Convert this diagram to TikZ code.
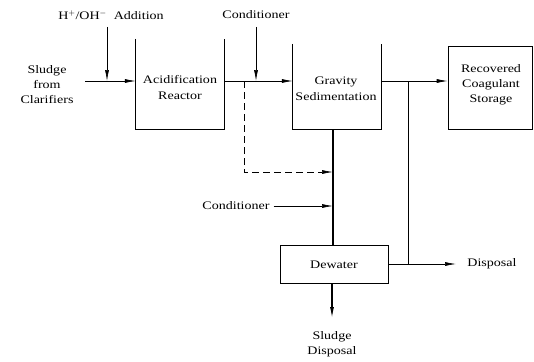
\documentclass[tikz,border=0pt]{standalone}
\usepackage{fontspec}
\setmainfont[FakeStretch=1.22]{Liberation Serif}
\usetikzlibrary{arrows.meta,calc}
\begin{document}
\begin{tikzpicture}[x=1pt,y=-1pt,
  lbl/.style={font=\fontsize{11.5}{13}\selectfont, align=center, inner sep=0pt},
  box/.style={draw=none, minimum width=#1, inner sep=0pt},
  ln/.style={line width=0.7pt},
  arr/.style={ln,-{Latex[length=11pt,width=4pt]}},
  dsh/.style={ln, dash pattern=on 7pt off 4pt}]
\useasboundingbox (0,0) rectangle (534,361);
% boxes
\node[box=88pt, minimum height=90pt] (reac) at (180,84) {};
\node[box=88pt, minimum height=85pt] (sed) at (337,86.5) {};
\node[draw, ln, minimum width=84pt, minimum height=83pt, inner sep=0pt] (stor) at (490,87.5) {};
\node[draw, ln, minimum width=108pt, minimum height=38pt, inner sep=0pt] (dew) at (334,264) {};
\draw[ln] (reac.north west) -- (reac.south west) -- (reac.south east) -- (reac.north east);
\draw[ln] (sed.north west) -- (sed.south west) -- (sed.south east) -- (sed.north east);
% texts
\node[lbl] (treac) at (180,88) {Acidification\\[3pt]Reactor};
\node[lbl] (tsed) at (336,89) {Gravity\\[3pt]Sedimentation};
\node[lbl] (tstor) at (491,85) {Recovered\\[2pt]Coagulant\\[2pt]Storage};
\node[lbl] (tdew) at (334,265) {Dewater};
\node[lbl] (tsl) at (47,85) {Sludge\\[2pt]from\\[2pt]Clarifiers};
\node[lbl] (tacid) at (111,15) {H$^+$/OH$^-$\ \ Addition};
\node[lbl] (tcond) at (256,15) {Conditioner};
\node[lbl] (tcond2) at (236,206) {Conditioner};
\node[lbl] (tdisp) at (492,264) {Disposal};
\node[lbl] (tsd) at (332,344) {Sludge\\[2pt]Disposal};
% coordinates
\coordinate (mainL) at (85,81);
\coordinate (acidT) at (107,27);
\coordinate (acidB) at (107,81);
\coordinate (condT) at (256,27);
\coordinate (condB) at (256,81);
\coordinate (dsplit) at (244,81);
\coordinate (dcorner) at (244,172);
\coordinate (djoin) at (333,172);
\coordinate (dpre) at (321,172);
\coordinate (rsplit) at (408,81);
\coordinate (rjoin) at (408,264);
\coordinate (c2end) at (333,206);
\coordinate (dispend) at (456,264);
\coordinate (sdend) at (332,318);
% connectors
\draw[arr] (mainL) -- (mainL -| reac.west);
\draw[arr] (acidT) -- (acidB);
\draw[arr] (mainL -| reac.east) -- (mainL -| sed.west);
\draw[arr] (condT) -- (condB);
\draw[dsh] (dsplit) -- (dcorner) -- (dpre);
\draw[arr] (dpre) -- (djoin);
\draw[arr] (mainL -| sed.east) -- (mainL -| stor.west);
\draw[ln] (rsplit) -- (rjoin);
\draw[line width=1.1pt] (sed.south -| djoin) -- (dew.north -| djoin);
\draw[arr] ($(tcond2.east)+(4,0)$) -- (c2end);
\draw[arr] (dew.east) -- (dispend);
\draw[arr,line width=1.1pt] (dew.south -| sdend) -- (sdend);
\end{tikzpicture}
\end{document}
